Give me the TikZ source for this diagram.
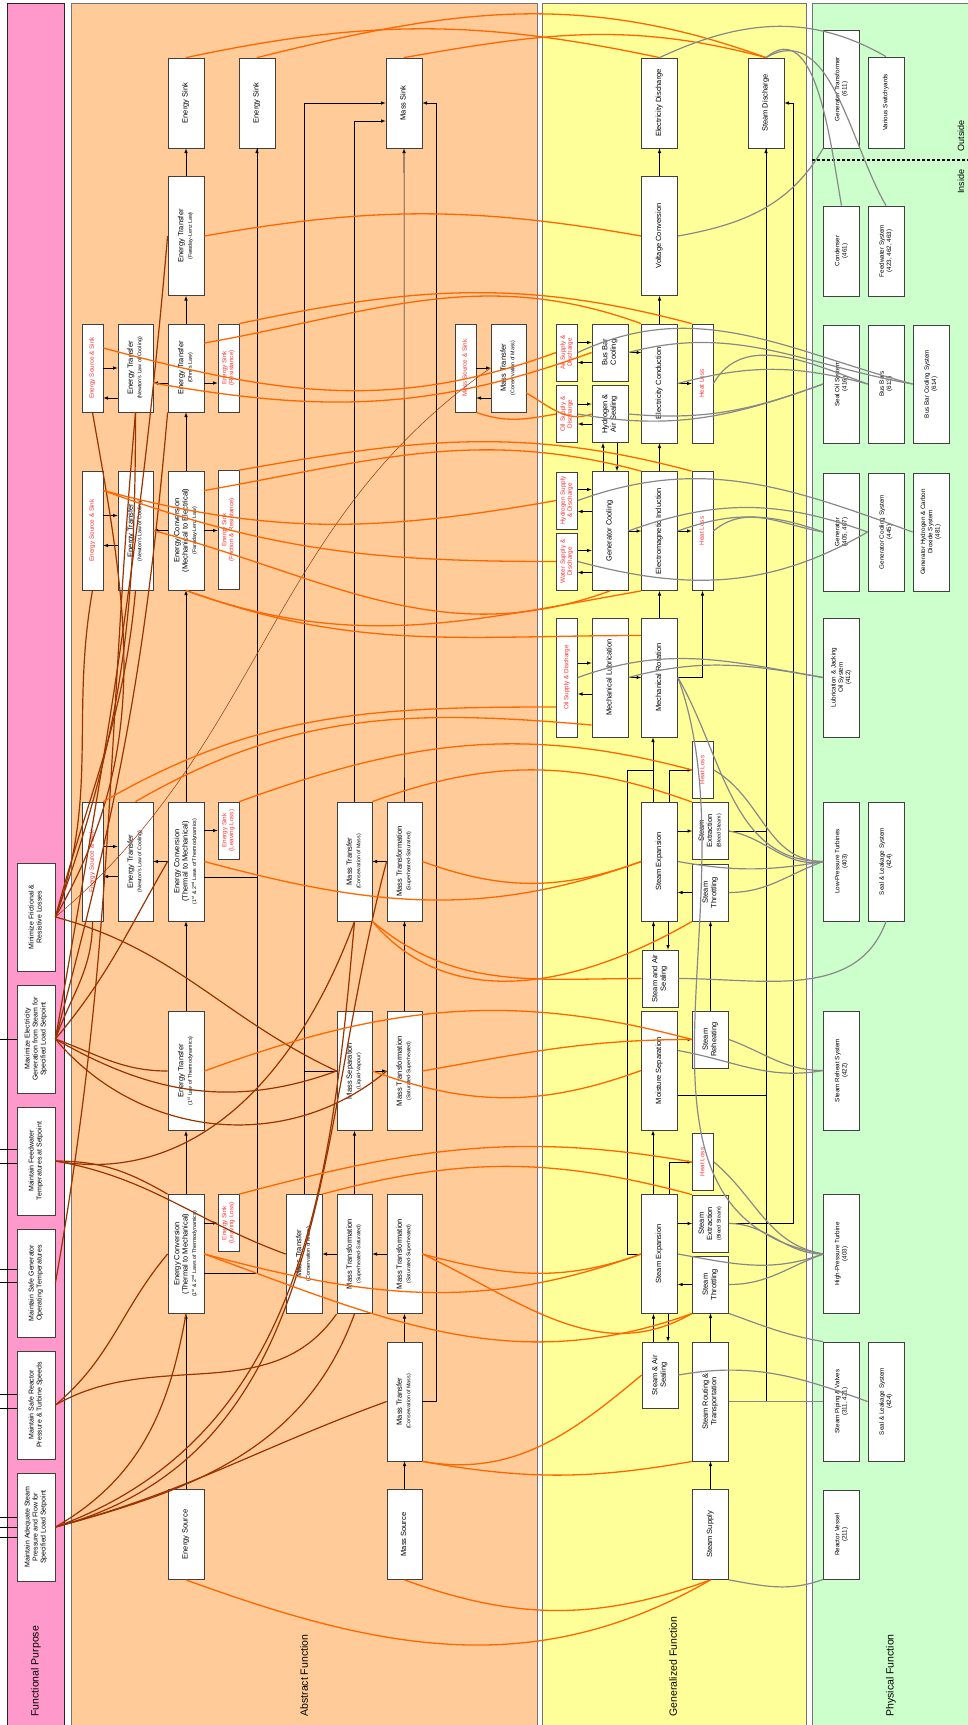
\documentclass[tikz,border=0pt]{standalone}
\usepackage{fontspec}
\setmainfont{Liberation Sans}
\usepackage{graphicx}
\usepackage{tikz}

\definecolor{fpPink}{HTML}{FF99CC}
\definecolor{afPeach}{HTML}{FFCC99}
\definecolor{gfYellow}{HTML}{FFFF99}
\definecolor{pfGreen}{HTML}{CCFFCC}
\definecolor{linkOrange}{HTML}{FF6600}
\definecolor{linkBrown}{HTML}{993300}
\definecolor{linkGray}{HTML}{888888}
\definecolor{lossRed}{HTML}{FF3333}

\newcommand{\vtxt}[1]{\rotatebox{90}{\begin{tabular}{@{}c@{}}#1\end{tabular}}}
\newcommand{\sml}[1]{{\fontsize{5.3}{6}\selectfont #1}}

\tikzset{
  box/.style={draw=black!75, fill=white, line width=0.8pt, inner sep=0pt,
    font=\fontsize{7.5}{8.4}\selectfont},
  lossbox/.style={box, text=lossRed, font=\fontsize{6.3}{7}\selectfont},
  fpbox/.style={box, minimum width=38pt, minimum height=108pt, font=\fontsize{7}{8}\selectfont},
  pfbox/.style={box, minimum width=36pt, font=\fontsize{6.3}{7.2}\selectfont},
  tallbox/.style={minimum width=36pt, minimum height=119pt},
  sinkbox/.style={minimum width=36pt, minimum height=90pt},
  rowbox/.style={minimum width=36pt, minimum height=88pt},
  halfbox/.style={minimum width=36pt, minimum height=57pt},
  slimbox/.style={minimum width=21pt, minimum height=119pt},
  slimrow/.style={minimum width=21pt, minimum height=88pt},
  slimhalf/.style={minimum width=21pt, minimum height=57pt},
  flow/.style={->, black, line width=0.6pt},
  link/.style={black, line width=0.6pt},
  orng/.style={linkOrange, line width=1.3pt},
  brwn/.style={linkBrown, line width=1.2pt},
  gry/.style={linkGray, line width=1.2pt},
  lanetitle/.style={rotate=90, anchor=west, font=\fontsize{10.5}{12}\selectfont},
}

\begin{document}
\begin{tikzpicture}[x=1pt, y=-1pt, >=latex]
	\useasboundingbox (0,0) rectangle (968,1725);

	% lanes
	\draw [draw=black!85, fill=fpPink, line width=0.8pt] (7,3) rectangle (64,1740);
	\draw [draw=black!55, fill=afPeach, line width=1pt] (71,3) rectangle (537,1740);
	\draw [draw=black!55, fill=gfYellow, line width=1pt] (542,3) rectangle (806,1740);
	\draw [draw=black!55, fill=pfGreen, line width=1pt] (812,3) rectangle (980,1740);

	\node [lanetitle] (lblFP) at (36,1720) {Functional Purpose};
	\node [lanetitle] (lblAF) at (304,1720) {Abstract Function};
	\node [lanetitle] (lblGF) at (673,1720) {Generalized Function};
	\node [lanetitle] (lblPF) at (891,1720) {Physical Function};

	% functional purpose
	\node [fpbox] (fpMin) at (36,917) {\vtxt{Minimize Frictional \&\\Resistive Losses}};
	\node [fpbox] (fpMax) at (36,1039) {\vtxt{Maximize Electricity\\Generation from Steam for\\Specified Load Setpoint}};
	\node [fpbox] (fpFeed) at (36,1161) {\vtxt{Maintain Feedwater\\Temperatures at Setpoint}};
	\node [fpbox] (fpGen) at (36,1283) {\vtxt{Maintain Safe Generator\\Operating Temperatures}};
	\node [fpbox] (fpReac) at (36,1405) {\vtxt{Maintain Safe Reactor\\Pressure \& Turbine Speeds}};
	\node [fpbox] (fpAdeq) at (36,1527) {\vtxt{Maintain Adequate Steam\\Pressure and Flow for\\Specified Load Setpoint}};

	\foreach \n/\s in {fpMax/0, fpFeed/12, fpFeed/-2, fpGen/14, fpGen/1, fpReac/11, fpReac/-3, fpAdeq/10, fpAdeq/0, fpAdeq/-10}
		\draw [link] ([yshift=\s pt]\n.west) -- +(-17,0);

	% abstract function
	\node [box, sinkbox] (esink1) at (186,103) {\vtxt{Energy Sink}};
	\node [box, sinkbox] (esink2) at (257,103) {\vtxt{Energy Sink}};
	\node [box, sinkbox] (massSink) at (404,103) {\vtxt{Mass Sink}};
	\node [box, tallbox] (etFar) at (186,236) {\vtxt{Energy Transfer\\\sml{(Faraday-Lenz Law)}}};

	\node [lossbox, slimrow] (srcsink1) at (92.5,368) {\vtxt{Energy Source \& Sink}};
	\node [box, rowbox, minimum width=35pt] (newton1) at (135.5,368) {\vtxt{Energy Transfer\\\sml{(Newton's Law of Cooling)}}};
	\node [box, rowbox] (etOhm) at (186,368) {\vtxt{Energy Transfer\\\sml{(Ohm's Law)}}};
	\node [lossbox, slimrow] (esinkRes) at (228.5,368) {\vtxt{Energy Sink\\(Resistance)}};
	\node [lossbox, slimrow] (mssTop) at (465.5,368) {\vtxt{Mass Source \& Sink}};
	\node [box, rowbox, minimum width=35pt] (mtTop) at (508.5,368) {\vtxt{Mass Transfer\\\sml{(Conservation of Mass)}}};

	\node [lossbox, slimbox] (srcsink2) at (92.5,530.5) {\vtxt{Energy Source \& Sink}};
	\node [box, tallbox, minimum width=35pt] (newton2) at (135.5,530.5) {\vtxt{Energy Transfer\\\sml{(Newton's Law of Cooling)}}};
	\node [box, tallbox] (ecME) at (186,530.5) {\vtxt{Energy Conversion\\(Mechanical to Electrical)\\\sml{(Faraday-Lenz Law)}}};
	\node [lossbox, slimbox] (esinkFR) at (228.5,530) {\vtxt{Energy Sink\\(Friction \& Resistance)}};

	\node [lossbox, slimbox] (srcsink3) at (92.5,861.5) {\vtxt{Energy Source \& Sink}};
	\node [box, tallbox, minimum width=35pt] (newton3) at (135.5,861.5) {\vtxt{Energy Transfer\\\sml{(Newton's Law of Cooling)}}};
	\node [box, tallbox] (ecTM1) at (186,861.5) {\vtxt{Energy Conversion\\(Thermal to Mechanical)\\\sml{(1\textsuperscript{st} \& 2\textsuperscript{nd} Laws of Thermodynamics)}}};
	\node [lossbox, slimhalf] (esinkLL1) at (228.5,830.5) {\vtxt{Energy Sink\\(Leaving Loss)}};
	\node [box, tallbox, minimum width=35pt] (mtUp) at (354.5,861.5) {\vtxt{Mass Transfer\\\sml{(Conservation of Mass)}}};
	\node [box, tallbox, minimum width=35pt] (mtrSS1) at (404.5,861.5) {\vtxt{Mass Transformation\\\sml{(Superheated-Saturated)}}};

	\node [box, tallbox] (et1st) at (186,1071) {\vtxt{Energy Transfer\\\sml{(1\textsuperscript{st} Law of Thermodynamics)}}};
	\node [box, tallbox, minimum width=35pt] (massSep) at (354.5,1071) {\vtxt{Mass Separation\\\sml{(Liquid-Vapour)}}};
	\node [box, tallbox, minimum width=35pt] (mtrSat1) at (404.5,1071) {\vtxt{Mass Transformation\\\sml{(Saturated-Superheated)}}};

	\node [box, tallbox] (ecTM2) at (186,1254) {\vtxt{Energy Conversion\\(Thermal to Mechanical)\\\sml{(1\textsuperscript{st} \& 2\textsuperscript{nd} Laws of Thermodynamics)}}};
	\node [lossbox, slimhalf] (esinkLL2) at (228.5,1223) {\vtxt{Energy Sink\\(Leaving Loss)}};
	\node [box, tallbox] (mtLow) at (304,1254) {\vtxt{Mass Transfer\\\sml{(Conservation of Mass)}}};
	\node [box, tallbox, minimum width=35pt] (mtrSS2) at (354.5,1254) {\vtxt{Mass Transformation\\\sml{(Superheated-Saturated)}}};
	\node [box, tallbox, minimum width=35pt] (mtrSat2) at (404.5,1254) {\vtxt{Mass Transformation\\\sml{(Saturated-Superheated)}}};
	\node [box, tallbox, minimum width=35pt] (mtBot) at (404.5,1401.5) {\vtxt{Mass Transfer\\\sml{(Conservation of Mass)}}};

	\node [box, sinkbox] (energySrc) at (186,1534.5) {\vtxt{Energy Source}};
	\node [box, sinkbox, minimum width=35pt] (massSrc) at (404.5,1534.5) {\vtxt{Mass Source}};

	% generalized function
	\node [box, sinkbox] (eDisch) at (659.5,103) {\vtxt{Electricity Discharge}};
	\node [box, sinkbox] (sDisch) at (766,103) {\vtxt{Steam Discharge}};
	\node [box, tallbox] (voltConv) at (659.5,236) {\vtxt{Voltage Conversion}};
	\node [lossbox, slimhalf] (airSup) at (567,352.5) {\vtxt{Air Supply \&\\Discharge}};
	\node [box, halfbox] (busBar) at (610,352.5) {\vtxt{Bus Bar\\Cooling}};
	\node [lossbox, slimhalf] (oilSupA) at (567,414) {\vtxt{Oil Supply \&\\Discharge}};
	\node [box, halfbox] (h2Seal) at (610,414) {\vtxt{Hydrogen \&\\Air Sealing}};
	\node [box, tallbox] (elecCond) at (659.5,383.5) {\vtxt{Electricity Conduction}};
	\node [lossbox, slimbox] (heatA) at (702.5,383.5) {\vtxt{Heat Loss}};
	\node [lossbox, slimhalf] (h2Sup) at (567,500.5) {\vtxt{Hydrogen Supply\\\& Discharge}};
	\node [lossbox, slimhalf] (waterSup) at (567,561.5) {\vtxt{Water Supply \&\\Discharge}};
	\node [box, tallbox] (genCool) at (610,531) {\vtxt{Generator Cooling}};
	\node [box, tallbox] (elecInd) at (659.5,531) {\vtxt{Electromagnetic Induction}};
	\node [lossbox, slimbox] (heatB) at (702.5,531) {\vtxt{Heat Loss}};
	\node [lossbox, slimbox] (oilSupB) at (567,677.5) {\vtxt{Oil Supply \& Discharge}};
	\node [box, tallbox] (mechLub) at (610,677.5) {\vtxt{Mechanical Lubrication}};
	\node [box, tallbox] (mechRot) at (659.5,677.5) {\vtxt{Mechanical Rotation}};
	\node [lossbox, slimhalf] (heatC) at (703,770) {\vtxt{Heat Loss}};
	\node [box, tallbox] (stExpA) at (659.5,861.5) {\vtxt{Steam Expansion}};
	\node [box, halfbox] (stExtrA) at (710.5,831) {\vtxt{Steam\\Extraction\\\sml{(Bleed Steam)}}};
	\node [box, halfbox] (stThrA) at (710.5,892.5) {\vtxt{Steam\\Throttling}};
	\node [box, halfbox] (sAirA) at (660,978.5) {\vtxt{Steam and Air\\Sealing}};
	\node [box, tallbox] (moistSep) at (659.5,1070.5) {\vtxt{Moisture Separation}};
	\node [box, halfbox] (stReheat) at (710.5,1039.5) {\vtxt{Steam\\Reheating}};
	\node [lossbox, slimhalf] (heatD) at (703,1162) {\vtxt{Heat Loss}};
	\node [box, tallbox] (stExpB) at (659.5,1254) {\vtxt{Steam Expansion}};
	\node [box, halfbox] (stExtrB) at (710.5,1223.5) {\vtxt{Steam\\Extraction\\\sml{(Bleed Steam)}}};
	\node [box, halfbox] (stThrB) at (710.5,1284.5) {\vtxt{Steam\\Throttling}};
	\node [box, minimum width=36pt, minimum height=66pt] (sAirB) at (660,1375) {\vtxt{Steam \& Air\\Sealing}};
	\node [box, tallbox] (stRoute) at (710.5,1401.5) {\vtxt{Steam Routing \&\\Transportation}};
	\node [box, sinkbox] (stSup) at (710.5,1534.5) {\vtxt{Steam Supply}};

	% physical function
	\node [pfbox, minimum height=118pt] (genTrans) at (841.5,89) {\vtxt{Generator Transformer\\(611)}};
	\node [pfbox, minimum height=91pt] (switchyard) at (886,102.5) {\vtxt{Various Switchyards}};
	\node [pfbox, minimum height=90pt] (condenser) at (841.5,251) {\vtxt{Condenser\\(461)}};
	\node [pfbox, minimum height=90pt] (feedwater) at (886,251) {\vtxt{Feedwater System\\(423, 462, 463)}};
	\node [pfbox, minimum height=118pt] (sealOil) at (841.5,384) {\vtxt{Seal Oil System\\(416)}};
	\node [pfbox, minimum height=118pt] (busBars) at (886,384) {\vtxt{Bus Bars\\(613)}};
	\node [pfbox, minimum height=118pt] (bbcs) at (931,384) {\vtxt{Bus Bar Cooling System\\(614)}};
	\node [pfbox, minimum height=118pt] (generator) at (841.5,532) {\vtxt{Generator\\(405, 407)}};
	\node [pfbox, minimum height=118pt] (genCoolSys) at (886,532) {\vtxt{Generator Cooling System\\(445)}};
	\node [pfbox, minimum height=118pt] (genH2) at (931,532) {\vtxt{Generator Hydrogen \& Carbon\\Dioxide System\\(481)}};
	\node [pfbox, minimum height=119pt] (lubOil) at (841.5,677.5) {\vtxt{Lubrication \& Jacking\\Oil System\\(412)}};
	\node [pfbox, minimum height=119pt] (lpTurb) at (841.5,861.5) {\vtxt{Low-Pressure Turbines\\(403)}};
	\node [pfbox, minimum height=119pt] (sealLeakA) at (886,861.5) {\vtxt{Seal \& Leakage System\\(424)}};
	\node [pfbox, minimum height=119pt] (reheatSys) at (841.5,1070.5) {\vtxt{Steam Reheat System\\(422)}};
	\node [pfbox, minimum height=119pt] (hpTurb) at (841.5,1254) {\vtxt{High-Pressure Turbine\\(403)}};
	\node [pfbox, minimum height=119pt] (piping) at (841.5,1401.5) {\vtxt{Steam Piping \& Valves\\(311, 421)}};
	\node [pfbox, minimum height=119pt] (sealLeakB) at (886,1401.5) {\vtxt{Seal \& Leakage System\\(424)}};
	\node [pfbox, minimum height=89pt] (reactor) at (841.5,1534.5) {\vtxt{Reactor Vessel\\(211)}};

	\draw [densely dashed, line width=1.3pt] (812,160) -- (968,160);
	\node [rotate=90, anchor=west, font=\fontsize{9}{10}\selectfont] (lblOut) at (961,155) {Outside};
	\node [rotate=90, anchor=east, font=\fontsize{9}{10}\selectfont] (lblIn) at (961,166) {Inside};

	% abstract function flows
	\draw [flow] (etFar) -- (esink1);
	\draw [flow] (etOhm) -- (etFar);
	\draw [flow] (ecME) -- (etOhm);
	\draw [flow] (ecTM1) -- (ecME);
	\draw [flow] (et1st) -- (ecTM1);
	\draw [flow] (ecTM2) -- (et1st);
	\draw [flow] (energySrc) -- (ecTM2);

	\draw [flow] (srcsink1) -- (newton1);
	\draw [flow] ([yshift=-30pt]newton1.west) -- ([yshift=-30pt]srcsink1.east);
	\draw [flow] ([yshift=-15pt]etOhm.west) -- ([yshift=-15pt]newton1.east);
	\draw [flow] ([yshift=-15pt]etOhm.east) -- ([yshift=-15pt]esinkRes.west);
	\draw [flow] ([yshift=15pt]srcsink2.east) -- ([yshift=15pt]newton2.west);
	\draw [flow] ([yshift=-15pt]newton2.west) -- ([yshift=-15pt]srcsink2.east);
	\draw [flow] (ecME) -- (newton2);
	\draw [flow] (ecME.east) -- (ecME.east -| esinkFR.west);
	\draw [flow] ([yshift=15pt]srcsink3.east) -- ([yshift=15pt]newton3.west);
	\draw [flow] ([yshift=-15pt]newton3.west) -- ([yshift=-15pt]srcsink3.east);
	\draw [flow] (ecTM1) -- (newton3);
	\draw [flow] (ecTM1.east |- esinkLL1.west) -- (esinkLL1.west);
	\draw [flow] (ecTM2.east |- esinkLL2.west) -- (esinkLL2.west);
	\draw [flow] ([yshift=-15.5pt]ecTM1.east) -| (esink2.south);
	\draw [link] ([yshift=-19pt]ecTM2.east) -| (esink2.south);

	\draw [flow] (mssTop) -- (mtTop);
	\draw [flow] ([yshift=-30pt]mtTop.west) -- ([yshift=-30pt]mssTop.east);
	\draw [flow] (mtrSS1) -- (mtUp);
	\draw [flow] (mtrSat1) -- (mtrSS1);
	\draw [flow] (massSep) -- (mtrSat1);
	\draw [flow] (mtrSS2) -- (massSep);
	\draw [flow] (mtrSS2) -- (mtLow);
	\draw [flow] (mtrSat2) -- (mtrSS2);
	\draw [flow] (mtBot) -- (mtrSat2);
	\draw [flow] (massSrc) -- (mtBot);
	\draw [flow] (mtrSS1) -- (massSink);
	\draw [flow] (mtUp.north) |- ([yshift=-18pt]massSink.west);
	\draw [flow] (mtLow.north) |- (massSink.west);
	\draw [link] (massSep.west) -- (massSep.west -| mtLow.north);
	\draw [flow] (mtBot.east) -- ++(14,0) |- (massSink.east);

	% generalized function flows
	\draw [flow] (voltConv) -- (eDisch);
	\draw [flow] (elecCond) -- (voltConv);
	\draw [flow] (elecInd) -- (elecCond);
	\draw [flow] (mechRot) -- (elecInd);
	\draw [flow] ([yshift=10pt]airSup.east) -- ([yshift=10pt]busBar.west);
	\draw [flow] ([yshift=-10pt]busBar.west) -- ([yshift=-10pt]airSup.east);
	\draw [flow] ([yshift=10pt]oilSupA.east) -- ([yshift=10pt]h2Seal.west);
	\draw [flow] ([yshift=-10pt]h2Seal.west) -- ([yshift=-10pt]oilSupA.east);
	\draw [flow] (busBar.east) -- (busBar.east -| elecCond.west);
	\draw [flow] (elecCond) -- (heatA);
	\draw [flow] ([xshift=-7pt]genCool.north) -- ([xshift=-7pt]h2Seal.south);
	\draw [flow] ([xshift=7pt]h2Seal.south) -- ([xshift=7pt]genCool.north);
	\draw [flow] ([yshift=11pt]h2Sup.east) -- ([yshift=41.5pt]genCool.west);
	\draw [flow] ([yshift=19.5pt]genCool.west) -- ([yshift=-11pt]h2Sup.east);
	\draw [flow] ([yshift=11pt]waterSup.east) -- ([yshift=-19.5pt]genCool.west);
	\draw [flow] ([yshift=-41.5pt]genCool.west) -- ([yshift=-11pt]waterSup.east);
	\draw [flow] (genCool) -- (elecInd);
	\draw [flow] (elecInd) -- (heatB);
	\draw [flow] (mechRot.east) -| (heatB.south);
	\draw [flow] ([yshift=14.5pt]oilSupB.east) -- ([yshift=14.5pt]mechLub.west);
	\draw [flow] ([yshift=-16.5pt]mechLub.west) -- ([yshift=-16.5pt]oilSupB.east);
	\draw [flow] (mechLub) -- (mechRot);

	\coordinate (rotIn) at ([xshift=-6.5pt]mechRot.south);
	\draw [flow] ([xshift=-6.5pt]stExpA.north) -- (rotIn);
	\draw [flow] ([xshift=9.5pt]stExpA.north) |- (heatC.west);
	\draw [link] (stExpB.west) -- ++(-14,0) |- (rotIn |- heatC.west);
	\draw [flow] (stExpA.east |- stExtrA.west) -- (stExtrA.west);
	\draw [flow] (stThrA.west) -- (stThrA.west -| stExpA.east);
	\draw [flow] ([xshift=-6.5pt]sAirA.north) -- ([xshift=-6pt]stExpA.south);
	\draw [flow] ([xshift=8.5pt]stExpA.south) -- ([xshift=8pt]sAirA.north);
	\draw [flow] (stReheat) -- (stThrA);
	\draw [flow] (moistSep.east |- stReheat.west) -- (stReheat.west);
	\draw [flow] ([xshift=-6.5pt]stExpB.north) -- ([xshift=-6.5pt]moistSep.south);
	\draw [flow] ([xshift=9.5pt]stExpB.north) |- (heatD.west);
	\draw [flow] (stExpB.east |- stExtrB.west) -- (stExtrB.west);
	\draw [flow] (stThrB.west) -- (stThrB.west -| stExpB.east);
	\draw [flow] ([xshift=-6.5pt]sAirB.north) -- ([xshift=-6pt]stExpB.south);
	\draw [flow] ([xshift=8.5pt]stExpB.south) -- ([xshift=8pt]sAirB.north);
	\draw [flow] (stRoute) -- (stThrB);
	\draw [flow] (stSup) -- (stRoute);
	\draw [flow] (stExtrA.east) -| (sDisch.south);
	\draw [link] ([yshift=-24.5pt]moistSep.east) -| (sDisch.south);
	\draw [link] (stRoute.east) -| (sDisch.south);
	\draw [flow] (stExtrB.east) -- ++(64,0) |- (sDisch.east);

	% anchors for the curved links
	\coordinate (ohmR) at ([yshift=25pt]etOhm.east);
	\coordinate (ss1R) at ([yshift=20pt]srcsink1.east);
	\coordinate (nw1R) at ([yshift=-15pt]newton1.east);
	\coordinate (mtTopR) at ([yshift=-25pt]mtTop.east);
	\coordinate (meR) at ([yshift=40pt]ecME.east);
	\coordinate (ss2R) at ([yshift=40pt]srcsink2.east);
	\coordinate (rotL) at ([yshift=42pt]mechRot.west);
	\coordinate (oilBL) at ([yshift=-29.5pt]oilSupB.west);
	\coordinate (lubL) at ([yshift=-47.5pt]mechLub.west);
	\coordinate (msR) at ([yshift=20pt]moistSep.east);

	% functional purpose to abstract function
	\foreach \a/\b/\o/\i in {
		fpMin.east/srcsink1.south/60/280, fpMin.east/newton1.south/70/270,
		fpMin.east/srcsink2.south/70/260, fpMin.east/newton2.south/75/265,
		fpMin.east/massSep.west/-15/155,
		fpMax.east/etFar.west/80/265, fpMax.east/etOhm.south west/75/265,
		fpMax.east/ecTM1.west/50/240, fpMax.east/et1st.west/-20/180,
		fpMax.east/massSep.west/-30/200, fpMax.east/mtrSat1.west/-50/220,
		fpMax.east/srcsink3.south/70/270,
		fpFeed.east/mtUp.south/-10/250, fpFeed.east/mtLow.west/-10/160,
		fpFeed.east/ecTM2.north west/0/150,
		fpGen.east/newton1.south/80/265,
		fpReac.east/mtrSS2.south west/30/235, fpReac.east/ecTM2.west/40/230,
		fpAdeq.east/mtBot.west/15/200, fpAdeq.east/mtUp.south/20/265,
		fpAdeq.east/mtrSS1.west/15/255, fpAdeq.east/mtrSS2.south/15/250,
		fpAdeq.east/ecTM2.south/30/260}
		\draw [brwn] (\a) to [out=\o, in=\i] (\b);
	\draw [brwn, line width=0.5pt] (fpMin.east) to [out=40, in=215] (mtTop.west);

	% abstract function to generalized function
	\foreach \a/\b/\o/\i in {
		esink1.north/eDisch.north/12/168, esink2.north/sDisch.north/14/160,
		massSink.north/sDisch.north/10/165, etFar.east/voltConv.west/10/170,
		ohmR/elecCond.north west/10/160, esinkRes.north east/heatA.north west/12/165,
		ss1R/airSup.west/-15/200, nw1R/busBar.west/-10/200,
		mtTopR/h2Seal.west/-30/200, mssTop.south east/oilSupA.west/-20/190,
		esinkFR.north east/heatB.north west/10/165, meR/elecInd.north west/10/165,
		ss2R/h2Sup.west/-15/190, ss2R/waterSup.west/-20/180,
		newton2.east/genCool.south/-15/200, ecME.south/elecInd.south west/-20/190,
		ecME.south/rotL/-20/180, srcsink3.north east/oilBL/30/180,
		newton3.north/lubL/30/175, esinkLL1.north east/heatC.west/20/165,
		mtUp.north east/stExtrA.north west/20/160, ecTM1.east/stExpA.west/-15/200,
		mtrSS1.east/stExpA.west/-20/200, mtUp.south east/sAirA.west/-40/180,
		mtUp.south east/stThrA.south west/-50/210, et1st.east/stReheat.west/20/165,
		mtrSat1.east/stReheat.west/10/180, massSep.east/moistSep.west/-20/200,
		esinkLL2.north east/heatD.west/15/170, mtLow.north east/stExtrB.north west/15/165,
		ecTM2.east/stExpB.west/-15/200, mtrSat2.east/stExpB.west/-15/200,
		ecTM2.east/stThrB.south west/-20/200, mtrSat2.east/stThrB.south west/-25/210,
		mtBot.south east/stRoute.south west/-10/190, mtBot.south east/sAirB.west/-10/220,
		energySrc.south/stSup.south/-20/210, massSrc.south/stSup.south/-20/200}
		\draw [orng] (\a) to [out=\o, in=\i] (\b);

	% generalized function to physical function
	\foreach \a/\b/\o/\i in {
		eDisch.north/switchyard.north/25/150, voltConv.east/genTrans.south west/10/240,
		sDisch.north/condenser.north/40/100, sDisch.north/feedwater.north/30/120,
		airSup.east/bbcs.west/25/165, busBar.east/bbcs.west/15/170,
		elecCond.east/busBars.west/15/165, heatA.east/busBars.west/60/160,
		h2Seal.east/sealOil.west/-5/200, oilSupA.east/sealOil.west/-10/200,
		h2Sup.east/genH2.west/20/160, genCool.east/genCoolSys.west/20/160,
		waterSup.east/genCoolSys.west/-15/210, elecInd.east/generator.west/20/160,
		heatB.east/generator.west/40/170, oilSupB.east/lubOil.west/20/170,
		mechLub.east/lubOil.west/15/170, mechRot.east/lpTurb.west/-60/180,
		mechRot.east/hpTurb.west/-70/170, heatC.east/lpTurb.west/-30/180,
		stExtrA.east/lpTurb.west/-10/190, stExpA.east/lpTurb.west/-10/190,
		stThrA.east/lpTurb.west/0/200, sAirA.east/sealLeakA.south/0/250,
		stReheat.east/reheatSys.west/-20/180, msR/reheatSys.west/-10/190,
		heatD.east/hpTurb.west/-40/170, stExtrB.east/hpTurb.west/0/180,
		stExpB.east/hpTurb.west/-10/200, stThrB.east/hpTurb.west/0/200,
		stRoute.east/piping.west/0/180, stThrB.south east/piping.north west/-20/170,
		sAirB.east/sealLeakB.west/10/160, stSup.south east/reactor.south west/-10/200}
		\draw [gry] (\a) to [out=\o, in=\i] (\b);
\end{tikzpicture}
\end{document}
